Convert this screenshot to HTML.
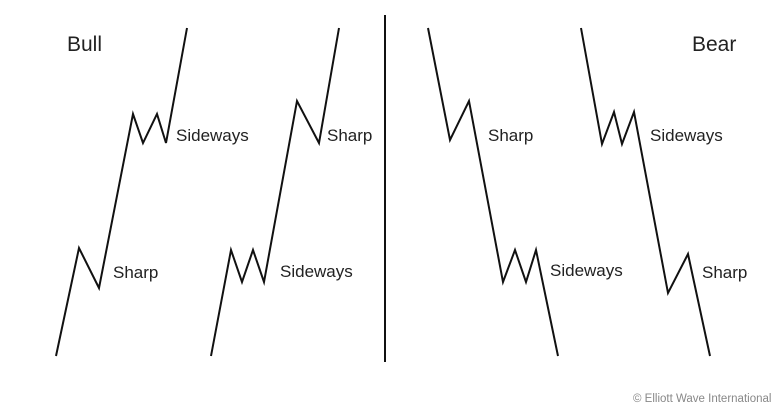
<!DOCTYPE html>
<html><head><style>
body{margin:0;background:#fff;}
svg{display:block;}
text{font-family:"Liberation Sans",sans-serif;fill:#222;}
</style></head><body>
<svg width="780" height="410" viewBox="0 0 780 410" xmlns="http://www.w3.org/2000/svg">
<g fill="none" stroke="#111" stroke-width="2" stroke-linejoin="miter">
<polyline points="56,356 79,248 99,288 133,114 143,143 157,114 166,143 187,28"/>
<polyline points="211,356 231,250 242,282 253,250 264,282 297,101 319,143 339,28"/>
<polyline points="428,28 450,140 469,101 503,282 515,250 526,282 536,250 558,356"/>
<polyline points="581,28 602,144 614,112 622,144 634,112 668,293 688,254 710,356"/>
<line x1="385" y1="15" x2="385" y2="362"/>
</g>
<g font-size="17">
<text x="176" y="141">Sideways</text>
<text x="113" y="278">Sharp</text>
<text x="327" y="141">Sharp</text>
<text x="280" y="277">Sideways</text>
<text x="488" y="141">Sharp</text>
<text x="650" y="141">Sideways</text>
<text x="550" y="276">Sideways</text>
<text x="702" y="278">Sharp</text>
</g>
<text x="67" y="51" font-size="21">Bull</text>
<text x="692" y="51" font-size="21">Bear</text>
<text x="633" y="402" font-size="11.5" style="fill:#888">© Elliott Wave International</text>
</svg>
</body></html>
